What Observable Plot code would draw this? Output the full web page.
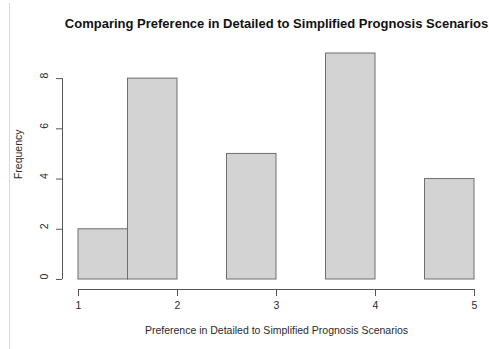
<!DOCTYPE html>
<html>
<head>
<meta charset="utf-8">
<script src="https://cdn.jsdelivr.net/npm/d3@7"></script>
<script src="https://cdn.jsdelivr.net/npm/@observablehq/plot@0.6"></script>
<style>
  html, body { margin: 0; padding: 0; background: #fff; }
  #wrap { position: relative; width: 489px; height: 349px; }
  #edge { position: absolute; left: 9px; top: 3px; bottom: 0; border-left: 1px solid #d9d9d9; }
</style>
</head>
<body>
<div id="wrap"><div id="edge"></div></div>
<script>
const title = "Comparing Preference in Detailed to Simplified Prognosis Scenarios";
const xLabel = "Preference in Detailed to Simplified Prognosis Scenarios";
const yLabel = "Frequency";
const binStart = [1, 1.5, 2, 2.5, 3, 3.5, 4, 4.5];
const binEnd   = [1.5, 2, 2.5, 3, 3.5, 4, 4.5, 5];
const counts   = [2, 8, 0, 5, 0, 9, 0, 4];
const xTicks = [1, 2, 3, 4, 5];
const yTicks = [0, 2, 4, 6, 8];

const bins = binStart.map((s, i) => ({x1: s, x2: binEnd[i], n: counts[i]}));
const xMid = (xTicks[0] + xTicks[xTicks.length - 1]) / 2;
const yMid = (yTicks[0] + yTicks[yTicks.length - 1]) / 2;

const ink = "#2a2a2a";
const fs = 10.5;
const chart = Plot.plot({
  width: 489,
  height: 349,
  marginLeft: 62,
  marginRight: 15,
  marginTop: 53,
  marginBottom: 60,
  style: {fontFamily: "'Liberation Sans', Arial, Helvetica, sans-serif", fontSize: fs + "px", color: ink, background: "transparent"},
  x: {domain: [1, 5], insetLeft: 16, axis: null},
  y: {domain: [0, 9], insetBottom: 10, axis: null},
  marks: [
    Plot.rectY(bins, {x1: "x1", x2: "x2", y1: 0, y2: "n", fill: "#d3d3d3", stroke: "#6e6e6e", strokeWidth: 1}),
    // x axis
    Plot.ruleY([0], {x1: xTicks[0], x2: xTicks[xTicks.length - 1], dy: 10, stroke: "#555"}),
    Plot.axisX({ticks: xTicks, tickSize: 7, tickPadding: 5, tickFormat: d => String(d), stroke: "#555", fill: ink, anchor: "bottom", fontSize: fs, label: null}),
    Plot.text([xLabel], {x: xMid, frameAnchor: "bottom", dy: 44, fill: ink, fontSize: fs}),
    // y axis
    Plot.ruleX([xTicks[0]], {y1: yTicks[0], y2: yTicks[yTicks.length - 1], dx: -16, stroke: "#555"}),
    Plot.axisY({ticks: yTicks, tickSize: 6, tickFormat: () => "", stroke: "#555", anchor: "left", label: null}),
    Plot.text(yTicks, {y: d => d, text: d => String(d), frameAnchor: "left", dx: -18, rotate: -90, fill: ink, fontSize: fs}),
    Plot.text([yLabel], {y: yMid, frameAnchor: "left", dx: -44, rotate: -90, fill: ink, fontSize: fs}),
    // title
    Plot.text([title], {x: xMid, frameAnchor: "top", dy: -35, fill: "#111", fontSize: 13, fontWeight: "bold"})
  ]
});
document.getElementById("wrap").appendChild(chart);
chart.style.position = "absolute";
chart.style.left = "0";
chart.style.top = "0";
</script>
</body>
</html>
